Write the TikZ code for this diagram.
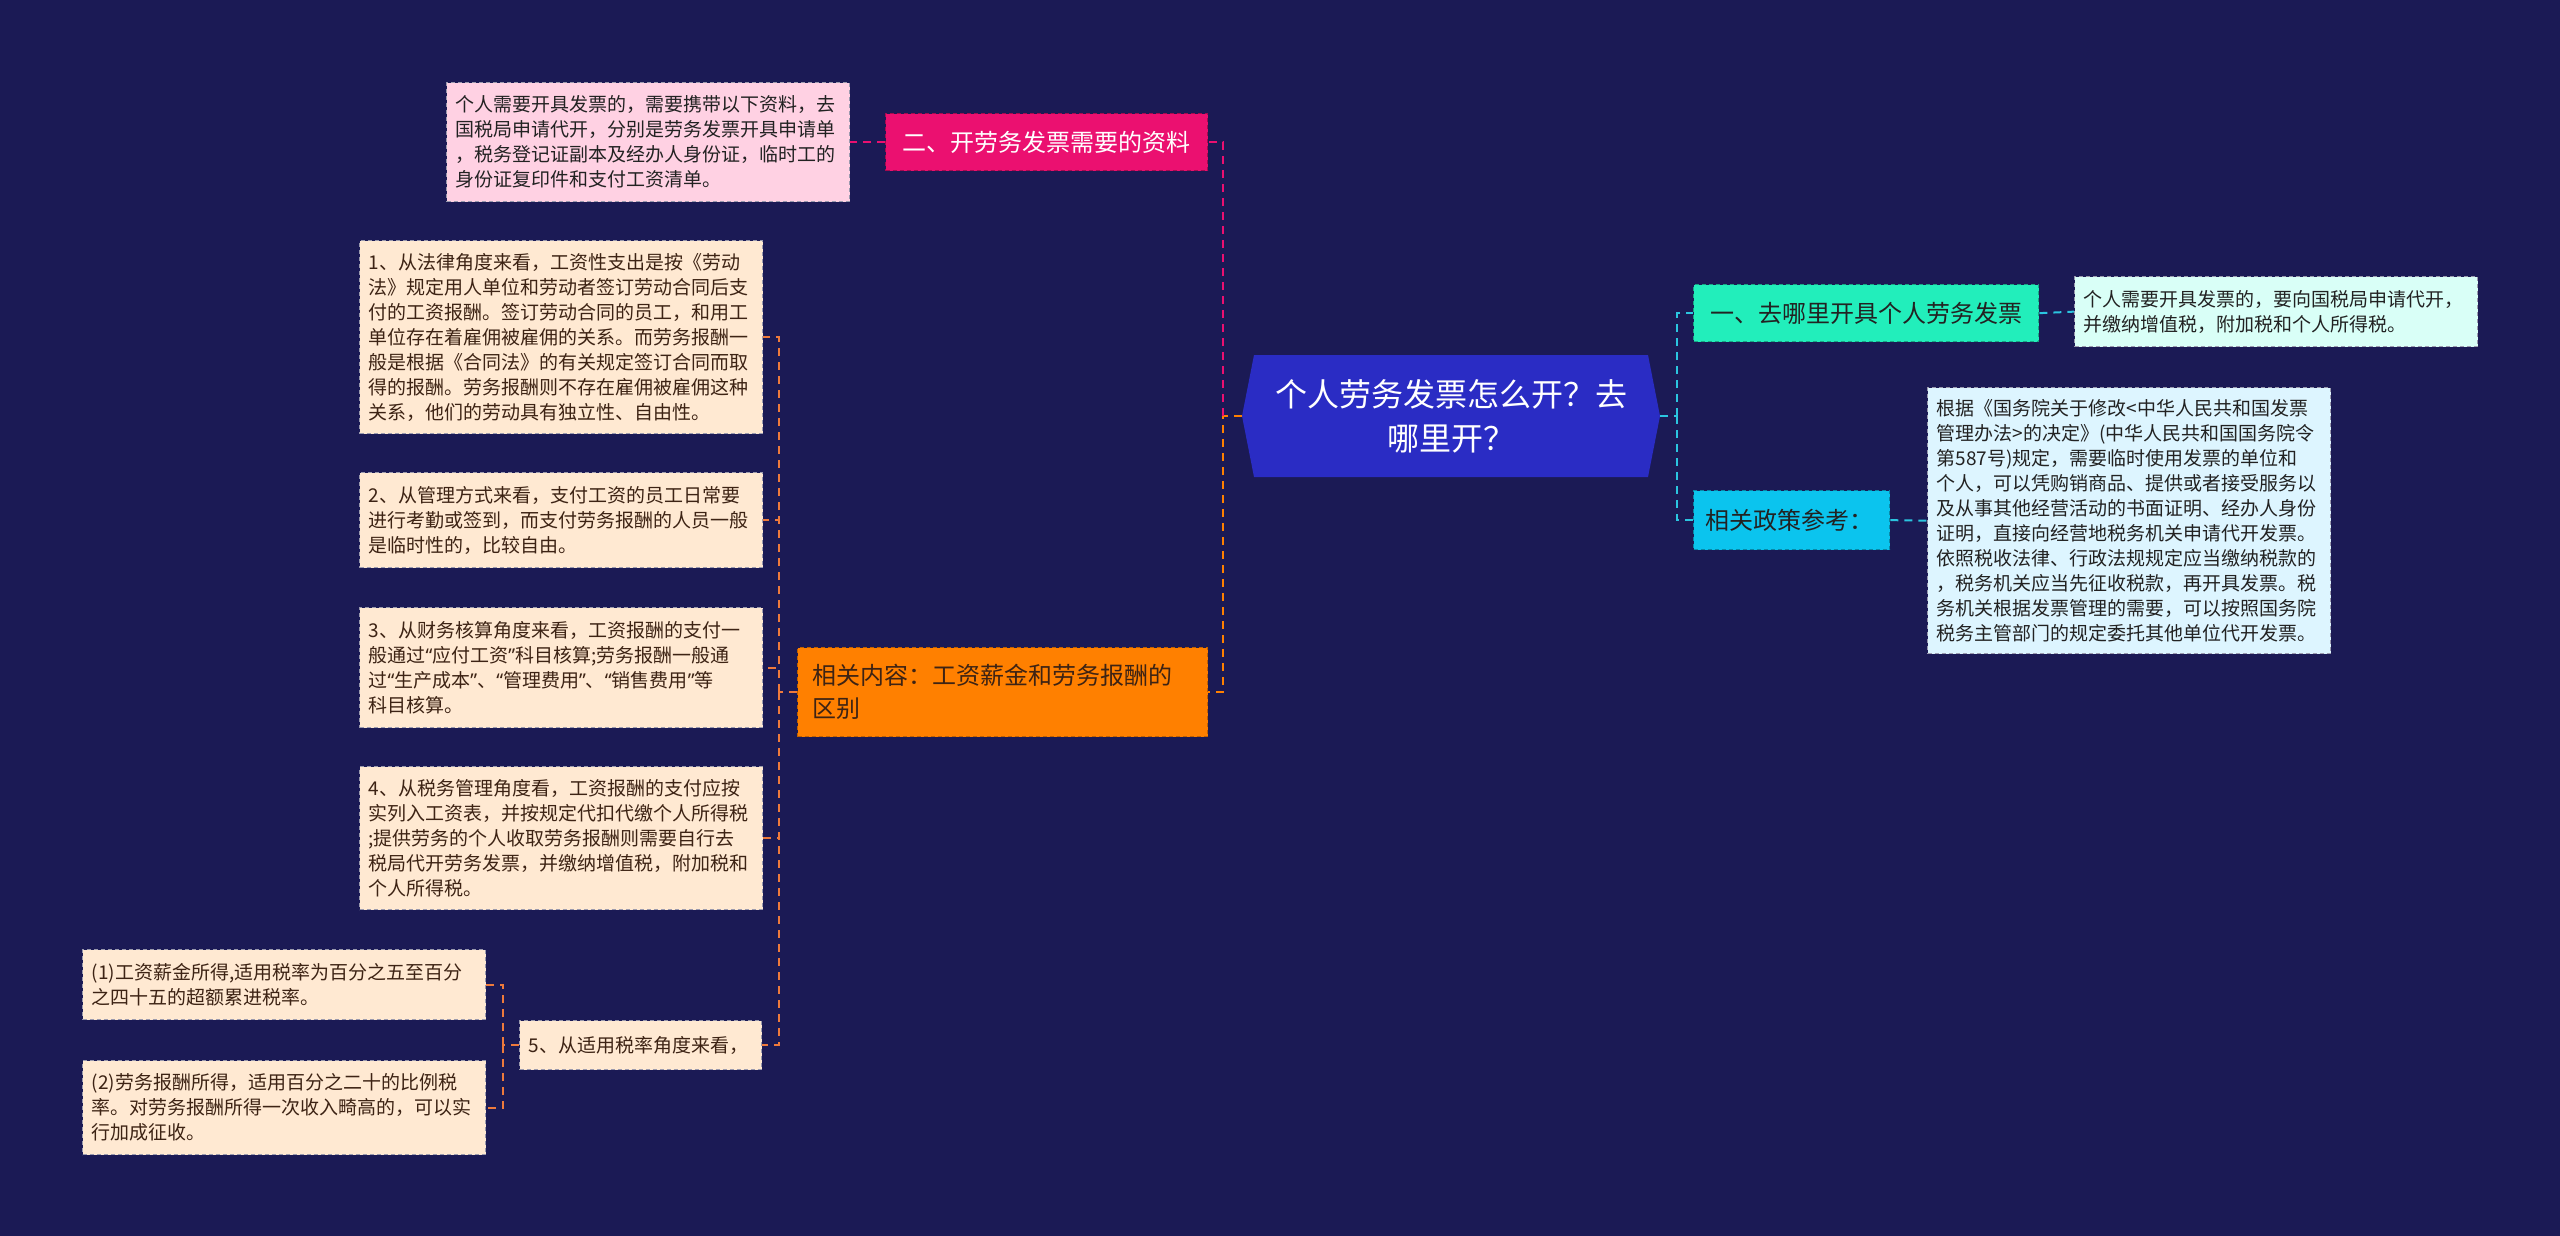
\documentclass[tikz,border=0pt]{standalone}
\usepackage{fontspec}
\setmainfont{Noto Sans CJK SC}
\newfontfamily\latinq{Noto Sans}
\newcommand{\myopenq}{{\latinq “}}
\newcommand{\myclosq}{{\latinq ”}}
\definecolor{bg}{HTML}{1B1A55}
\definecolor{rootblue}{HTML}{2A2CC4}
\definecolor{pinkc}{HTML}{EB1070}
\definecolor{pinkleaf}{HTML}{FFD1E3}
\definecolor{orangec}{HTML}{FF8000}
\definecolor{itemc}{HTML}{EE7A3C}
\definecolor{peach}{HTML}{FFE9D2}
\definecolor{tealc}{HTML}{22EEBB}
\definecolor{tealleaf}{HTML}{D9FFF7}
\definecolor{skyc}{HTML}{0BC4EE}
\definecolor{skyleaf}{HTML}{DDF5FF}
\definecolor{cyanline}{HTML}{2BC5E0}
\definecolor{leafline}{HTML}{9A9AAE}
\definecolor{itemtext}{HTML}{3D2314}
\definecolor{darktext}{HTML}{222222}
\tikzset{
  box/.style={anchor=north west, align=left, inner xsep=9pt, inner ysep=0pt,
    line width=1.3pt, dash pattern=on 4pt off 3pt,
    font=\fontsize{19}{25}\selectfont},
  leafbox/.style={box, draw=leafline, text=darktext, text width=385pt},
  peachbox/.style={leafbox, fill=peach, text=itemtext},
  mainbox/.style={box, font=\fontsize{24}{33}\selectfont},
  link/.style={line width=2pt, dash pattern=on 8pt off 6pt}
}
\begin{document}
\begin{tikzpicture}[x=1pt,y=-1pt]
\useasboundingbox (0,0) rectangle (2560,1236);
\fill[bg] (0,0) rectangle (2560,1236);

% root hexagon
\fill[rootblue] (1242,416) -- (1254,355) -- (1648,355) -- (1660,416) -- (1648,477) -- (1254,477) -- cycle;
\node[anchor=center, minimum width=418pt, minimum height=122pt, text=white, align=center,
  font=\fontsize{32}{44}\selectfont] (root) at (1451,416) {个人劳务发票怎么开？去\\哪里开？};

% left upper branch
\node[mainbox, fill=pinkc, draw=pinkc!70!black, text=white, text width=294pt, inner xsep=14pt,
  align=center, minimum height=57pt] (pinknode) at (885,113) {二、开劳务发票需要的资料};
\node[leafbox, fill=pinkleaf, minimum height=119pt] (pinkleaf) at (446,82)
  {个人需要开具发票的，需要携带以下资料，去\\国税局申请代开，分别是劳务发票开具申请单\\，税务登记证副本及经办人身份证，临时工的\\身份证复印件和支付工资清单。};

% left lower branch
\node[mainbox, fill=orangec, draw=orangec!75!black, text=itemtext, text width=380pt, inner xsep=15pt,
  minimum height=89pt] (orangenode) at (797,647) {相关内容：工资薪金和劳务报酬的\\区别};

\node[peachbox, minimum height=193pt] (item1) at (359,240)
  {1、从法律角度来看，工资性支出是按《劳动\\法》规定用人单位和劳动者签订劳动合同后支\\付的工资报酬。签订劳动合同的员工，和用工\\单位存在着雇佣被雇佣的关系。而劳务报酬一\\般是根据《合同法》的有关规定签订合同而取\\得的报酬。劳务报酬则不存在雇佣被雇佣这种\\关系，他们的劳动具有独立性、自由性。};
\node[peachbox, minimum height=95pt] (item2) at (359,472)
  {2、从管理方式来看，支付工资的员工日常要\\进行考勤或签到，而支付劳务报酬的人员一般\\是临时性的，比较自由。};
\node[peachbox, minimum height=120pt] (item3) at (359,607)
  {3、从财务核算角度来看，工资报酬的支付一\\般通过\myopenq 应付工资\myclosq 科目核算;劳务报酬一般通\\过\myopenq 生产成本\myclosq 、\myopenq 管理费用\myclosq 、\myopenq 销售费用\myclosq 等\\科目核算。};
\node[peachbox, minimum height=143pt] (item4) at (359,766)
  {4、从税务管理角度看，工资报酬的支付应按\\实列入工资表，并按规定代扣代缴个人所得税\\;提供劳务的个人收取劳务报酬则需要自行去\\税局代开劳务发票，并缴纳增值税，附加税和\\个人所得税。};
\node[peachbox, text width=224pt, minimum height=49pt] (item5) at (519,1020)
  {5、从适用税率角度来看，};
\node[peachbox, minimum height=70pt] (sub1) at (82,949)
  {(1)工资薪金所得,适用税率为百分之五至百分\\之四十五的超额累进税率。};
\node[peachbox, minimum height=94pt] (sub2) at (82,1060)
  {(2)劳务报酬所得，适用百分之二十的比例税\\率。对劳务报酬所得一次收入畸高的，可以实\\行加成征收。};

% right branch
\node[mainbox, fill=tealc, draw=tealc!70!black, text=darktext, text width=319pt, inner xsep=13pt,
  align=center, minimum height=57pt] (teal) at (1693,284) {一、去哪里开具个人劳务发票};
\node[leafbox, fill=tealleaf, minimum height=70pt] (tealleaf) at (2074,276)
  {个人需要开具发票的，要向国税局申请代开，\\并缴纳增值税，附加税和个人所得税。};
\node[mainbox, fill=skyc, draw=skyc!70!black, text=darktext, text width=172pt, inner xsep=12pt,
  minimum height=59pt] (policy) at (1693,490) {相关政策参考：};
\node[leafbox, fill=skyleaf, minimum height=266pt] (policyleaf) at (1927,387)
  {根据《国务院关于修改<中华人民共和国发票\\管理办法>的决定》(中华人民共和国国务院令\\第587号)规定，需要临时使用发票的单位和\\个人，可以凭购销商品、提供或者接受服务以\\及从事其他经营活动的书面证明、经办人身份\\证明，直接向经营地税务机关申请代开发票。\\依照税收法律、行政法规规定应当缴纳税款的\\，税务机关应当先征收税款，再开具发票。税\\务机关根据发票管理的需要，可以按照国务院\\税务主管部门的规定委托其他单位代开发票。};

% junctions
\coordinate (jL) at ([xshift=-19pt]root.west);
\coordinate (jR) at ([xshift=17pt]root.east);
\coordinate (jO) at ([xshift=-18pt]orangenode.west);
\coordinate (j5) at ([xshift=-16pt]item5.west);

% connectors
\draw[link, orangec] (root.west) -- (jL) |- (orangenode.east);
\draw[link, pinkc] (jL) |- (pinknode.east);
\draw[link, pinkc] (pinknode.west) -- (pinkleaf.east);
\draw[link, itemc] (orangenode.west) -- (jO);
\draw[link, itemc] (jO) |- (item1.east);
\draw[link, itemc] (jO) |- (item2.east);
\draw[link, itemc] (jO) |- (item3.east);
\draw[link, itemc] (jO) |- (item4.east);
\draw[link, itemc] (jO) |- (item5.east);
\draw[link, itemc] (item5.west) -- (j5);
\draw[link, itemc] (j5) |- (sub1.east);
\draw[link, itemc] (j5) |- (sub2.east);
\draw[link, cyanline] (root.east) -- (jR);
\draw[link, cyanline] (jR) |- (teal.west);
\draw[link, cyanline] (jR) |- (policy.west);
\draw[link, cyanline] (teal.east) -- (tealleaf.west);
\draw[link, cyanline] (policy.east) -- (policyleaf.west);
\end{tikzpicture}
\end{document}
